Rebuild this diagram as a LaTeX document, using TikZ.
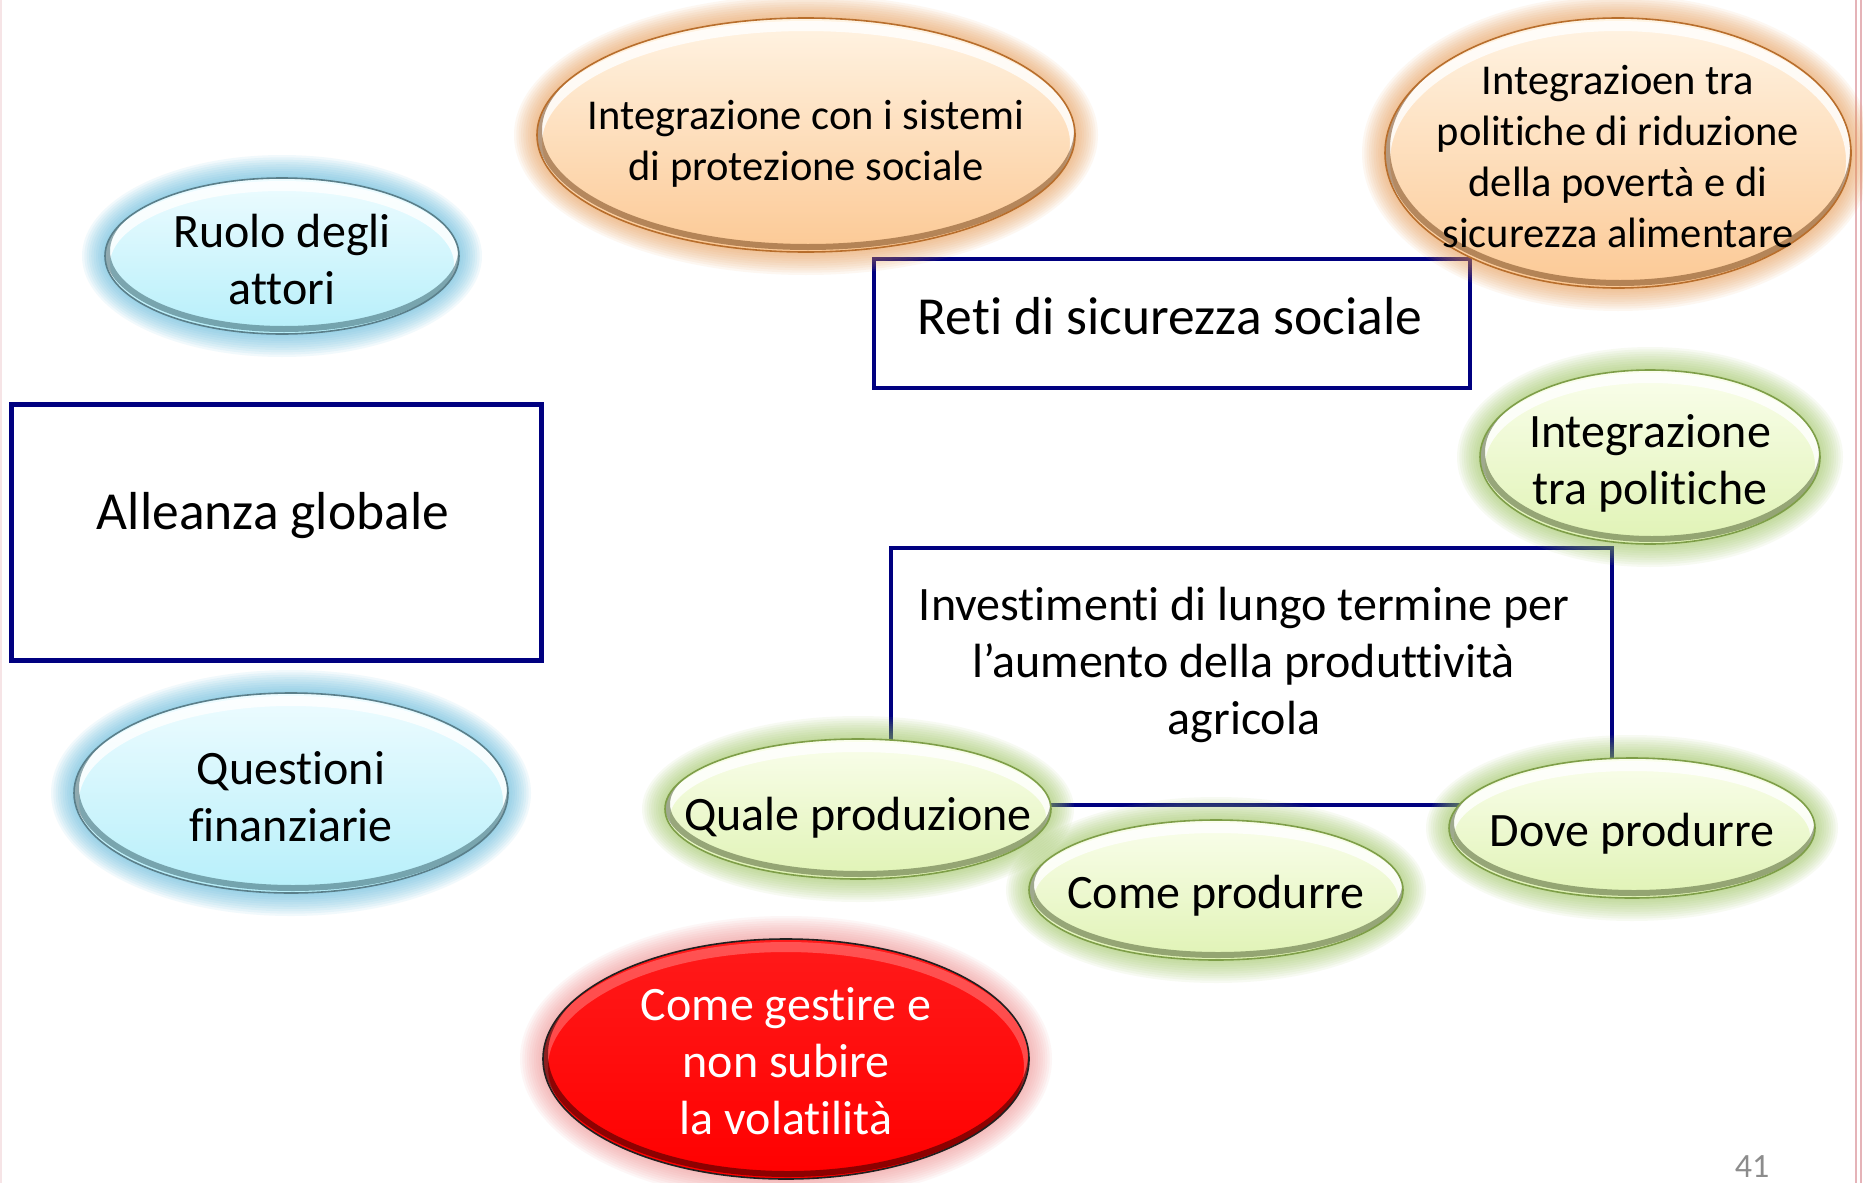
\documentclass[tikz,border=0pt]{standalone}
\usepackage{fontspec}
\setmainfont{Carlito}[Ligatures={NoCommon}]
\definecolor{navy}{HTML}{000080}
\definecolor{blueglow}{HTML}{4FB3D9}
\definecolor{bluetop}{HTML}{EEFCFF}
\definecolor{bluebot}{HTML}{B6EFFA}
\definecolor{blueline}{HTML}{5A7F8A}
\definecolor{bluedark}{HTML}{3D6670}
\definecolor{orangeglow}{HTML}{E8964A}
\definecolor{orangetop}{HTML}{FFF4E4}
\definecolor{orangebot}{HTML}{FCC995}
\definecolor{orangeline}{HTML}{B86E2C}
\definecolor{orangedark}{HTML}{7A4A20}
\definecolor{greenglow}{HTML}{98C455}
\definecolor{greentop}{HTML}{FAFEEC}
\definecolor{greenbot}{HTML}{E0F3B5}
\definecolor{greenline}{HTML}{7E9E48}
\definecolor{greendark}{HTML}{55653A}
\definecolor{redglow}{HTML}{F08A8A}
\definecolor{redtop}{HTML}{FF1A1A}
\definecolor{redbot}{HTML}{FF0000}
\definecolor{redline}{HTML}{202020}
\definecolor{reddark}{HTML}{300000}
\definecolor{pinkedge}{HTML}{E5B3B8}
\definecolor{pagegray}{HTML}{8C8C8C}
\tikzset{
  big/.style={align=center, font=\fontsize{48}{57}\selectfont, inner sep=0pt},
  huge/.style={align=center, font=\fontsize{53.5}{60}\selectfont, inner sep=0pt},
  mid/.style={align=center, font=\fontsize{42.5}{51}\selectfont, inner sep=0pt},
  navybox/.style={draw=navy, fill=white, inner sep=0pt},
  bluehl/.style={opacity=0.8}, orangehl/.style={opacity=0.8},
  greenhl/.style={opacity=0.8}, redhl/.style={opacity=0.25},
}
% #1 name, #2 cx, #3 cy, #4 rx, #5 ry, #6 scheme, #7 text style, #8 text, #9 text offset
\newcommand\bubble[9]{%
  \foreach \k in {1,...,10}{\fill[#6glow, opacity=0.075] (#2,#3) ellipse ({#4+2.3*\k} and {#5+2.3*\k});}
  \begin{scope}
    \clip (#2,#3) ellipse (#4 and #5);
    \shade[top color=#6top, bottom color=#6bot] (#2-#4,#3-#5) rectangle (#2+#4,#3+#5);
    \draw[white, line width=10, #6hl] (#2,#3+8) ellipse (#4 and #5);
    \draw[#6dark, line width=6, opacity=0.55] (#2+2,#3-5) ellipse (#4 and #5);
  \end{scope}
  \draw[#6line, line width=1.6] (#2,#3) ellipse (#4 and #5);
  \node[#7] (#1) at (#2,#3+#9) {#8};
}
\begin{document}
\begin{tikzpicture}[x=1pt, y=-1pt]
\useasboundingbox (0,0) rectangle (1863,1183);
\fill[white] (0,0) rectangle (1863,1183);
% page edges
\draw[pinkedge!35, line width=2] (1,0) -- (1,1183);
\draw[pinkedge, line width=2] (1855.5,0) -- (1855.5,1183);
\draw[pinkedge, line width=2] (1860.5,0) -- (1860.5,1183);

% rectangles
\node[navybox, line width=5, minimum width=530, minimum height=256] (alleanza) at (276,532) {};
\node[huge] (alleanzat) at (273,516) {Alleanza globale};
\node[navybox, line width=4, minimum width=596, minimum height=129] (reti) at (1172,323) {};
\node[huge] (retit) at (1170,316) {Reti di sicurezza sociale};
\node[navybox, line width=4, minimum width=721, minimum height=257] (invest) at (1251.5,676.5) {};
\node[big] (investt) at (1244,665) {Investimenti di lungo termine per\\l’aumento della produttività\\agricola};

% bubbles
\bubble{ruolo}{282}{256}{177}{78}{blue}{big}{Ruolo degli\\attori}{4}
\bubble{questioni}{291}{793}{217}{100}{blue}{big}{Questioni\\finanziarie}{4}
\bubble{protezione}{806}{135}{269}{117}{orange}{mid}{Integrazione con i sistemi\\di protezione sociale}{9}
\bubble{poverta}{1618}{153}{233}{135}{orange}{mid}{Integrazioen tra\\politiche di riduzione\\della povertà e di\\sicurezza alimentare}{4}
\bubble{politiche}{1650}{457}{170}{87}{green}{big}{Integrazione\\tra politiche}{6}
\bubble{dove}{1632}{828}{183}{70}{green}{big}{Dove produrre}{6}
\bubble{quale}{858}{809}{193}{70}{green}{big}{Quale produzione}{9}
\bubble{come}{1216}{890}{187}{70}{green}{big}{Come produrre}{6}
\bubble{volatilita}{786}{1059}{243}{120}{red}{big, text=white}{Come gestire e\\non subire\\la volatilità}{2}

% page number
\node[anchor=base, font=\fontsize{34}{40}\selectfont, text=pagegray, inner sep=0pt] (pagenum) at (1752,1177) {41};
\end{tikzpicture}
\end{document}
